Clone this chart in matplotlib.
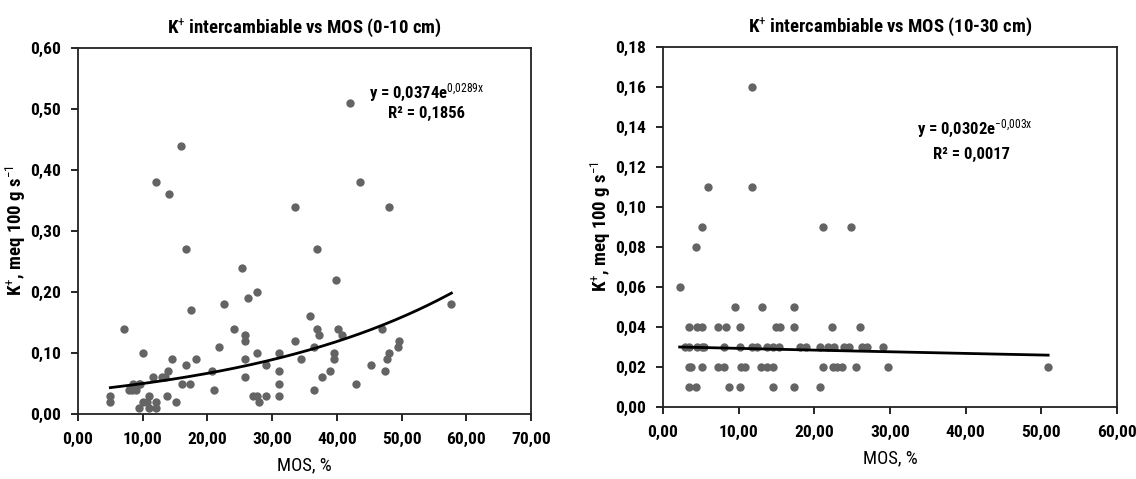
import numpy as np
import matplotlib
matplotlib.use("Agg")
import matplotlib.pyplot as plt
from matplotlib import font_manager
from matplotlib.ticker import FuncFormatter, MultipleLocator

avail = {f.name for f in font_manager.fontManager.ttflist}
fam = next((f for f in ['Liberation Sans Narrow', 'Roboto Condensed', 'Open Sans Condensed',
                         'Lato', 'Open Sans', 'Roboto'] if f in avail), 'DejaVu Sans')
plt.rcParams['font.family'] = [fam, 'DejaVu Sans']
plt.rcParams['mathtext.fontset'] = 'custom'
plt.rcParams['mathtext.rm'] = fam
plt.rcParams['mathtext.it'] = fam
plt.rcParams['mathtext.bf'] = fam + ':bold'

# ---- data: left panel (0-10 cm) ----
left_x = [5.0, 5.0, 7.1, 10.0,
          7.9, 8.4, 8.5, 9.0, 9.4, 9.6,
          9.5, 10.0, 10.6, 10.9, 10.9, 12.0, 12.0, 11.6,
          13.0, 13.5, 13.9, 13.8,
          12.0, 14.0, 15.9, 14.5, 15.2, 16.0, 16.7, 16.7, 17.3, 17.4, 18.2,
          20.7, 21.0, 21.8, 22.6, 24.1, 25.4, 25.8, 25.8, 25.8, 25.8, 26.2, 27.7, 27.7, 27.1, 27.7, 28.0, 29.1, 29.1,
          31.0, 31.1, 31.0, 31.0, 33.6, 33.6, 34.5, 35.8, 36.4, 36.9, 36.9, 37.2, 36.4, 37.7, 39.0,
          39.9, 40.2, 40.8, 39.6, 39.6, 42.0, 43.6, 42.9, 45.3, 47.0, 47.4, 47.8, 48.1, 48.1, 49.4, 49.6, 57.7]
left_y = [0.03, 0.02, 0.14, 0.10,
          0.04, 0.04, 0.05, 0.04, 0.05, 0.05,
          0.01, 0.02, 0.02, 0.03, 0.01, 0.02, 0.01, 0.06,
          0.06, 0.06, 0.07, 0.03,
          0.38, 0.36, 0.44, 0.09, 0.02, 0.05, 0.27, 0.08, 0.05, 0.17, 0.09,
          0.07, 0.04, 0.11, 0.18, 0.14, 0.24, 0.13, 0.12, 0.09, 0.06, 0.19, 0.20, 0.10, 0.03, 0.03, 0.02, 0.08, 0.03,
          0.10, 0.07, 0.05, 0.03, 0.34, 0.12, 0.09, 0.16, 0.04, 0.27, 0.14, 0.13, 0.11, 0.06, 0.07,
          0.22, 0.14, 0.13, 0.10, 0.09, 0.51, 0.38, 0.05, 0.08, 0.14, 0.07, 0.09, 0.10, 0.34, 0.11, 0.12, 0.18]
left_fit_a = 0.0374
left_fit_b = 0.0289

# ---- data: right panel (10-30 cm) ----
right_x = [2.2, 4.4, 5.2, 5.9, 11.7, 11.7, 21.1, 24.8,
           9.5, 13.1, 17.3,
           3.5, 4.5, 5.2, 7.3, 8.3, 10.2, 14.9, 15.5, 17.3, 22.4, 26.1,
           2.9, 3.5, 4.5, 5.2, 5.4, 8.1, 10.2, 11.7, 12.4, 13.8, 14.6, 15.3, 18.1, 18.9, 20.7, 21.8, 22.6,
           23.9, 24.6, 26.3, 27.0, 29.1,
           3.5, 3.7, 5.2, 7.3, 8.1, 10.3, 10.9, 13.0, 13.8, 14.6, 21.1, 22.5, 23.0, 23.6, 25.5, 29.7, 50.9,
           3.5, 4.4, 8.7, 10.2, 14.6, 17.3, 20.7]
right_y = [0.06, 0.08, 0.09, 0.11, 0.11, 0.16, 0.09, 0.09,
           0.05, 0.05, 0.05,
           0.04, 0.04, 0.04, 0.04, 0.04, 0.04, 0.04, 0.04, 0.04, 0.04, 0.04,
           0.03, 0.03, 0.03, 0.03, 0.03, 0.03, 0.03, 0.03, 0.03, 0.03, 0.03, 0.03, 0.03, 0.03, 0.03, 0.03, 0.03,
           0.03, 0.03, 0.03, 0.03, 0.03,
           0.02, 0.02, 0.02, 0.02, 0.02, 0.02, 0.02, 0.02, 0.02, 0.02, 0.02, 0.02, 0.02, 0.02, 0.02, 0.02, 0.02,
           0.01, 0.01, 0.01, 0.01, 0.01, 0.01, 0.01]
right_fit_a = 0.0302
right_fit_b = -0.003

titles = ["K$^{+}$ intercambiable vs MOS (0-10 cm)", "K$^{+}$ intercambiable vs MOS (10-30 cm)"]
ylabel = "K$^{+}$, meq 100 g s$^{-1}$"
xlabel = "MOS, %"
eq_texts = [("y = 0,0374e$^{0{,}0289x}$", "R² = 0,1856"),
            ("y = 0,0302e$^{-0{,}003x}$", "R² = 0,0017")]

fig = plt.figure(figsize=(11.36, 4.79), dpi=100)
ax1 = fig.add_axes([78/1136, 1-414/479, 453/1136, 366/479])
ax2 = fig.add_axes([663/1136, 1-407/479, 454/1136, 360/479])

fmt = FuncFormatter(lambda v, p: f"{v:.2f}".replace(".", ","))
dot = '#646464'

def style(ax, xmax, ymax, ystep):
    ax.set_xlim(0, xmax)
    ax.set_ylim(0, ymax)
    ax.xaxis.set_major_locator(MultipleLocator(10))
    ax.yaxis.set_major_locator(MultipleLocator(ystep))
    ax.xaxis.set_major_formatter(fmt)
    ax.yaxis.set_major_formatter(fmt)
    ax.tick_params(direction='out', length=5, width=1.2, labelsize=12.5)
    ax.tick_params(axis='y', pad=7)
    ax.tick_params(axis='x', pad=8)
    for lab in ax.get_xticklabels() + ax.get_yticklabels():
        lab.set_fontweight('bold')
    for s in ax.spines.values():
        s.set_linewidth(1.3)
        s.set_color('#222222')
    ax.set_xlabel(xlabel, fontsize=13.5, labelpad=7)
    ax.set_ylabel(ylabel, fontsize=13.5, fontweight='bold', labelpad=2)

# left panel
ax1.scatter(left_x, left_y, s=36, color=dot, zorder=3, linewidths=0)
xf = np.linspace(min(left_x), max(left_x), 200)
ax1.plot(xf, left_fit_a*np.exp(left_fit_b*xf), color='black', lw=2, zorder=4)
style(ax1, 70, 0.6, 0.1)
ax1.set_title(titles[0], fontsize=13.5, fontweight='bold', pad=11)
ax1.text(0.77, 0.866, eq_texts[0][0], transform=ax1.transAxes, fontsize=12, fontweight='bold', ha='center')
ax1.text(0.77, 0.81, eq_texts[0][1], transform=ax1.transAxes, fontsize=12, fontweight='bold', ha='center')

# right panel
ax2.scatter(right_x, right_y, s=36, color=dot, zorder=3, linewidths=0)
xf2 = np.linspace(min(right_x), max(right_x), 200)
ax2.plot(xf2, right_fit_a*np.exp(right_fit_b*xf2), color='black', lw=2, zorder=4)
style(ax2, 60, 0.18, 0.02)
ax2.set_title(titles[1], fontsize=13.5, fontweight='bold', pad=11)
ax2.text(0.687, 0.76, eq_texts[1][0], transform=ax2.transAxes, fontsize=12, fontweight='bold', ha='center')
ax2.text(0.68, 0.69, eq_texts[1][1], transform=ax2.transAxes, fontsize=12, fontweight='bold', ha='center')

fig.savefig("out.png", dpi=100, facecolor='white')
